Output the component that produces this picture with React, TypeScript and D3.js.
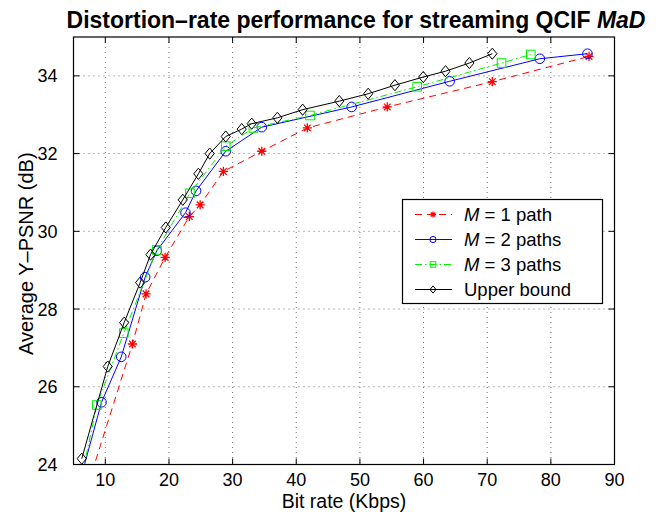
import React from "react";
import * as d3 from "d3";

const redX = [7.9, 14.26, 16.4, 19.4, 23.2, 24.9, 28.55, 34.58, 41.74, 54.3, 70.8, 86.0];
const redY = [23.8, 27.1, 28.39, 29.33, 30.38, 30.68, 31.54, 32.06, 32.66, 33.2, 33.85, 34.5];
const blueX = [6.4, 9.4, 12.5, 16.26, 18.09, 22.6, 24.26, 28.92, 34.58, 48.7, 64.1, 78.27, 85.75];
const blueY = [23.8, 25.6, 26.77, 28.82, 29.5, 30.48, 31.04, 32.06, 32.68, 33.2, 33.86, 34.44, 34.57];
const greenX = [6.5, 8.67, 12.9, 18.1, 23.3, 28.92, 33.26, 42.16, 59.0, 72.25, 76.85];
const greenY = [23.85, 25.53, 27.38, 29.52, 30.98, 32.19, 32.66, 32.98, 33.72, 34.33, 34.55];
const blackX = [6.3, 10.38, 12.96, 15.47, 17.1, 19.5, 22.17, 24.62, 26.4, 28.92, 31.43, 33.0, 37.03, 41.0, 46.76, 51.3, 55.5, 59.95, 63.45, 67.2, 70.8];
const blackY = [24.15, 26.52, 27.65, 28.68, 29.4, 30.1, 30.81, 31.48, 32.0, 32.44, 32.63, 32.77, 32.92, 33.13, 33.35, 33.54, 33.76, 33.97, 34.12, 34.33, 34.57];

const xTicks = [10, 20, 30, 40, 50, 60, 70, 80, 90];
const yTicks = [24, 26, 28, 30, 32, 34];
const legendNames = ["1 path", "2 paths", "3 paths", "Upper bound"];

const L = 73.5, R = 614.5, T = 37, B = 464.5;
const x = d3.scaleLinear().domain([5, 90]).range([L, R]);
const y = d3.scaleLinear().domain([24, 35]).range([B, T]);

type Series = { xs: number[]; ys: number[]; color: string; dash: string | undefined; marker: string };
const series: Series[] = [
  { xs: redX, ys: redY, color: "#ff0000", dash: "7,5", marker: "star" },
  { xs: blueX, ys: blueY, color: "#0000ff", dash: undefined, marker: "circle" },
  { xs: greenX, ys: greenY, color: "#00f000", dash: "7,3,1.5,3", marker: "square" },
  { xs: blackX, ys: blackY, color: "#000000", dash: undefined, marker: "diamond" },
];

function Marker({ kind, cx, cy, color, s }: { kind: string; cx: number; cy: number; color: string; s: number }) {
  if (kind === "circle") return <circle cx={cx} cy={cy} r={s * 4.8} fill="none" stroke={color} strokeWidth={1} />;
  if (kind === "square") return <rect x={cx - s * 4.3} y={cy - s * 4.3} width={s * 8.6} height={s * 8.6} fill="none" stroke={color} strokeWidth={1} />;
  if (kind === "diamond") {
    const w = s * 4.6, h = s * 5.6;
    return <path d={`M${cx},${cy - h}L${cx + w},${cy}L${cx},${cy + h}L${cx - w},${cy}Z`} fill="none" stroke={color} strokeWidth={1} />;
  }
  const r = s * 4.6, d = r * 0.72;
  return (
    <path
      d={`M${cx - r},${cy}H${cx + r}M${cx},${cy - r}V${cy + r}M${cx - d},${cy - d}L${cx + d},${cy + d}M${cx - d},${cy + d}L${cx + d},${cy - d}`}
      stroke={color}
      strokeWidth={1.3}
      fill="none"
    />
  );
}

export default function App() {
  const line = d3.line<[number, number]>().x((d) => x(d[0])).y((d) => y(d[1]));
  const font = "Liberation Sans, Arial, Helvetica, sans-serif";
  return (
    <svg width={672} height={512} style={{ position: "absolute", left: 0, top: 0, background: "#fff" }} fontFamily={font}>
      <defs>
        <clipPath id="plot">
          <rect x={L} y={T} width={R - L} height={B - T} />
        </clipPath>
      </defs>
      <rect x={0} y={0} width={672} height={512} fill="#fff" />
      {/* grid */}
      {xTicks.map((t) => (
        <line key={"gx" + t} x1={x(t)} x2={x(t)} y1={T} y2={B} stroke="#000" strokeWidth={0.8} strokeDasharray="1,4" opacity={0.7} />
      ))}
      {yTicks.map((t) => (
        <line key={"gy" + t} x1={L} x2={R} y1={y(t)} y2={y(t)} stroke="#000" strokeWidth={0.8} strokeDasharray="1,4" opacity={0.7} />
      ))}
      {/* ticks */}
      {xTicks.map((t) => (
        <g key={"tx" + t}>
          <line x1={x(t)} x2={x(t)} y1={B} y2={B - 6} stroke="#000" />
          <line x1={x(t)} x2={x(t)} y1={T} y2={T + 6} stroke="#000" />
          <text x={x(t)} y={B + 21} textAnchor="middle" fontSize={18}>{t}</text>
        </g>
      ))}
      {yTicks.map((t) => (
        <g key={"ty" + t}>
          <line x1={L} x2={L + 6} y1={y(t)} y2={y(t)} stroke="#000" />
          <line x1={R} x2={R - 6} y1={y(t)} y2={y(t)} stroke="#000" />
          <text x={L - 16} y={y(t) + 6.5} textAnchor="end" fontSize={18}>{t}</text>
        </g>
      ))}
      <g clipPath="url(#plot)">
        {series.map((s, i) => (
          <g key={"s" + i}>
            <path
              d={line(s.xs.map((v, j) => [v, s.ys[j]] as [number, number])) || ""}
              fill="none"
              stroke={s.color}
              strokeWidth={1}
              strokeDasharray={s.dash}
            />
            {s.xs.map((v, j) => (
              <Marker key={j} kind={s.marker} cx={x(v)} cy={y(s.ys[j])} color={s.color} s={1} />
            ))}
          </g>
        ))}
      </g>
      <rect x={L} y={T} width={R - L} height={B - T} fill="none" stroke="#000" strokeWidth={1.2} />
      {/* legend */}
      <g>
        <rect x={402.5} y={199.5} width={200} height={104} fill="#fff" stroke="#000" strokeWidth={1.2} />
        {series.map((s, i) => {
          const ry = 214.5 + i * 25;
          return (
            <g key={"lg" + i}>
              <line x1={415} x2={452} y1={ry} y2={ry} stroke={s.color} strokeDasharray={s.dash} strokeWidth={1} />
              <Marker kind={s.marker} cx={433} cy={ry} color={s.color} s={0.65} />
              <text x={464} y={ry + 6.5} fontSize={18.5}>
                {i < 3 ? (
                  <>
                    <tspan fontStyle="italic">M</tspan>
                    <tspan> = {legendNames[i]}</tspan>
                  </>
                ) : (
                  legendNames[i]
                )}
              </text>
            </g>
          );
        })}
      </g>
      {/* labels */}
      <text x={356} y={28} textAnchor="middle" fontSize={23} fontWeight="bold">
        Distortion–rate performance for streaming QCIF <tspan fontStyle="italic">MaD</tspan>
      </text>
      <text x={344} y={508} textAnchor="middle" fontSize={19.5}>Bit rate (Kbps)</text>
      <text transform={`translate(33,${(T + B) / 2 + 3}) rotate(-90)`} textAnchor="middle" fontSize={20}>
        Average Y–PSNR (dB)
      </text>
    </svg>
  );
}
